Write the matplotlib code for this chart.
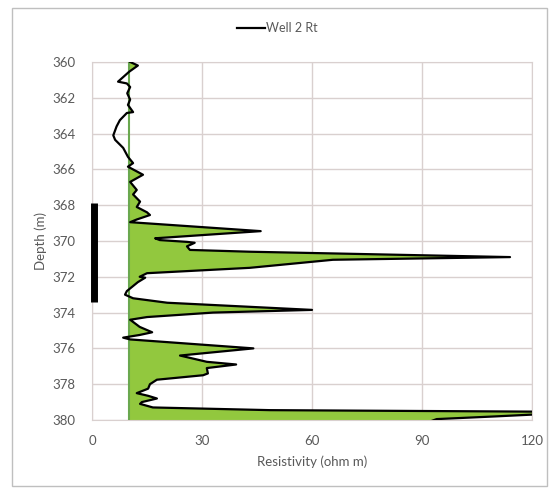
import numpy as np
import matplotlib.pyplot as plt
from matplotlib.patches import Rectangle

plt.rcParams['font.family'] = ['Lato', 'DejaVu Sans']

# Well 2 true resistivity log (depth in m, Rt in ohm m)
depth = [360.0, 360.2, 360.55, 361.1, 361.2, 361.4, 361.75, 362.1, 362.4, 362.8,
         362.85, 363.25, 363.6, 364.1, 364.35, 364.8, 365.3, 365.65, 365.85, 366.3,
         366.7, 367.15, 367.4, 367.8, 368.1, 368.4, 368.55, 368.8, 368.95, 369.45,
         369.85, 369.95, 370.05, 370.1, 370.3, 370.5, 370.6, 370.9, 371.05, 371.5,
         371.8, 372.0, 372.05, 372.3, 372.8, 373.0, 373.2, 373.45, 373.85, 374.0,
         374.25, 374.4, 374.8, 375.1, 375.25, 375.4, 375.5, 376.0, 376.4, 376.75,
         376.9, 377.1, 377.4, 377.5, 377.75, 378.0, 378.25, 378.5, 378.65, 378.8,
         379.0, 379.1, 379.3, 379.45, 379.55, 379.8, 379.95, 380.1]
rt = [10.4, 12.5, 10.1, 7.1, 9.5, 10.4, 9.6, 10.4, 9.8, 11.2,
      9.5, 7.6, 6.7, 5.8, 6.3, 8.5, 9.8, 11.2, 9.8, 13.9,
      10.4, 12.2, 11.2, 13.1, 12.2, 15.0, 15.8, 12.2, 10.4, 46.0,
      17.2, 18.5, 25.9, 28.0, 25.9, 26.7, 43.0, 114.0, 65.7, 43.0,
      15.0, 13.0, 14.5, 12.5, 9.5, 9.0, 11.2, 20.5, 60.0, 33.0,
      15.0, 10.4, 13.0, 16.4, 13.0, 8.5, 10.4, 44.0, 24.0, 31.3,
      39.3, 31.3, 31.6, 30.3, 17.7, 15.8, 15.3, 12.2, 15.3, 17.7,
      13.6, 13.1, 16.6, 48.5, 135.0, 110.0, 94.0, 92.0]
depth = np.array(depth)
rt = np.array(rt)

cutoff = 10  # resistivity cutoff, ohm m
zone_top, zone_base = 367.9, 373.4  # marked interval

fig = plt.figure(figsize=(5.55, 4.93), dpi=100)
ax = fig.add_axes([0.1658, 0.1481, 0.7928, 0.7262])

grid_c = '#d9d0cf'
text_c = '#595959'

ax.fill_betweenx(depth, cutoff, rt, where=rt >= cutoff, interpolate=True,
                 color='#92c83e', lw=0, zorder=2)
ax.axvline(cutoff, color='#6aa84f', lw=1.5, zorder=3)
ax.plot(rt, depth, color='black', lw=1.6, label='Well 2 Rt', zorder=4)
ax.plot([0.5, 0.5], [zone_top, zone_base], color='black', lw=5,
        solid_capstyle='butt', clip_on=False, zorder=5)

ax.set_xlim(0, 120)
ax.set_ylim(380, 360)
ax.set_xticks([0, 30, 60, 90, 120])
ax.set_yticks(np.arange(360, 381, 2))
ax.grid(True, color=grid_c, lw=1)
ax.set_axisbelow(True)
for s in ax.spines.values():
    s.set_color(grid_c)
ax.tick_params(length=0, labelcolor=text_c, labelsize=9.5)
ax.tick_params(axis='y', pad=12)
ax.tick_params(axis='x', pad=11)
ax.set_xlabel('Resistivity (ohm m)', color=text_c, fontsize=9.5, labelpad=6)
ax.set_ylabel('Depth (m)', color=text_c, fontsize=9.5, labelpad=4)

leg = fig.legend(loc='center', bbox_to_anchor=(0.5, 0.943), frameon=False,
                 fontsize=9, handlelength=2.2, handletextpad=0.1)
for t in leg.get_texts():
    t.set_color(text_c)

fig.patches.append(Rectangle((12 / 555, 7 / 493), 535 / 555, 478 / 493,
                             transform=fig.transFigure, fill=False,
                             edgecolor='#bfbfbf', lw=1))

fig.savefig('out.png', dpi=100)
